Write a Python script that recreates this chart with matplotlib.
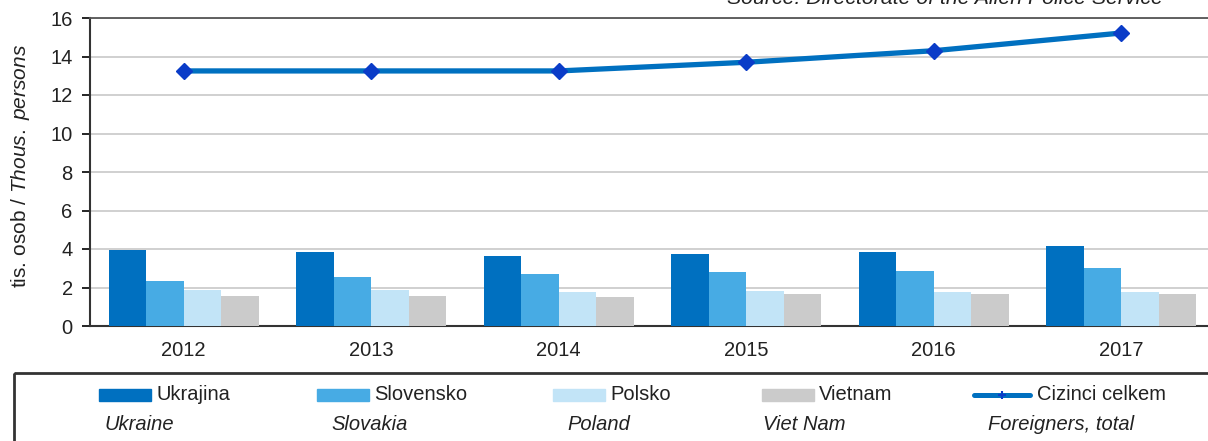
import matplotlib.pyplot as plt
import numpy as np
from matplotlib.patches import Rectangle
from matplotlib.lines import Line2D

plt.rcParams['font.family'] = 'Liberation Sans'
plt.rcParams['mathtext.fontset'] = 'custom'
plt.rcParams['mathtext.rm'] = 'Liberation Sans'
plt.rcParams['mathtext.it'] = 'Liberation Sans:italic'

years = ['2012', '2013', '2014', '2015', '2016', '2017']
ukraine = [3.94, 3.83, 3.62, 3.72, 3.83, 4.14]
slovakia = [2.35, 2.56, 2.68, 2.78, 2.88, 2.99]
poland = [1.85, 1.85, 1.75, 1.83, 1.75, 1.75]
vietnam = [1.54, 1.54, 1.52, 1.64, 1.64, 1.64]
total = [13.25, 13.25, 13.25, 13.7, 14.3, 15.22]

names_cz = ['Ukrajina', 'Slovensko', 'Polsko', 'Vietnam', 'Cizinci celkem']
names_en = ['Ukraine', 'Slovakia', 'Poland', 'Viet Nam', 'Foreigners, total']
colors = ['#0070c0', '#47abe4', '#c2e4f7', '#cbcbcb']
line_color = '#0070c0'
marker_color = '#0a3cc8'
txt = '#222222'
fs = 14.5

W, H = 1208, 441
fig = plt.figure(figsize=(W / 100, H / 100), dpi=100)

def px(x0, y0, x1, y1):
    # pixel box (top-left origin) -> figure fraction rect
    return [x0 / W, 1 - y1 / H, (x1 - x0) / W, (y1 - y0) / H]

ax = fig.add_axes(px(90, 18, 1215, 326))
x = np.arange(len(years))
bw = 0.2
for i, vals in enumerate([ukraine, slovakia, poland, vietnam]):
    ax.bar(x + (i - 1.5) * bw, vals, width=bw, color=colors[i], zorder=3)
ax.plot(x, total, color=line_color, lw=3.8, zorder=4)
ax.plot(x, total, ls='none', marker='D', ms=8.5, color=marker_color, zorder=5)

ax.set_xlim(-0.5, 5.5)
ax.set_ylim(0, 16)
ax.set_yticks(range(0, 17, 2))
ax.set_xticks(x)
ax.set_xticklabels(years)
ax.tick_params(axis='x', length=0, pad=11, labelsize=fs, labelcolor=txt)
ax.tick_params(axis='y', length=5.5, width=1.2, pad=7, labelsize=fs, labelcolor=txt)
ax.grid(axis='y', color='#c8c8c8', lw=1.2, zorder=0)
ax.set_axisbelow(True)
for s in ['left', 'bottom']:
    ax.spines[s].set_linewidth(1.5)
    ax.spines[s].set_color('#333333')
ax.spines['top'].set_color('#555555')
ax.spines['top'].set_linewidth(1.3)
ax.spines['right'].set_visible(False)

fig.text(21 / W, 1 - 166 / H, r'tis. osob / $\it{Thous.\ persons}$', rotation=90,
         ha='center', va='center', fontsize=fs + 0.5, color=txt)

fig.text(1163 / W, 1 - 4 / H, 'Source: Directorate of the Alien Police Service',
         ha='right', va='baseline', fontsize=fs + 0.8, style='italic', color=txt)

# legend box
lg = fig.add_axes(px(13, 373, 1215, 450))
lg.set_xlim(13, 1215)
lg.set_ylim(450, 373)
lg.axis('off')
lg.add_patch(Rectangle((14, 373), 1210, 80, fill=False, lw=2, ec='#333333', clip_on=False))

patch_x = [99, 317, 553, 762]
for i in range(4):
    lg.add_patch(Rectangle((patch_x[i], 389), 52, 12, color=colors[i]))
    lg.text(patch_x[i] + 57, 395, names_cz[i], va='center', fontsize=fs, color=txt)
lg.add_line(Line2D([974, 1030], [395, 395], color=line_color, lw=3.6, solid_capstyle='round'))
lg.plot([1002], [395], marker='+', ms=6, mew=1.5, color=marker_color)
lg.text(1037, 395, names_cz[4], va='center', fontsize=fs, color=txt)

en_x = [104, 331, 567, 763, 988]
for i in range(5):
    lg.text(en_x[i], 425, names_en[i], va='center', fontsize=fs, style='italic', color=txt)

fig.savefig('out.png', dpi=100)
